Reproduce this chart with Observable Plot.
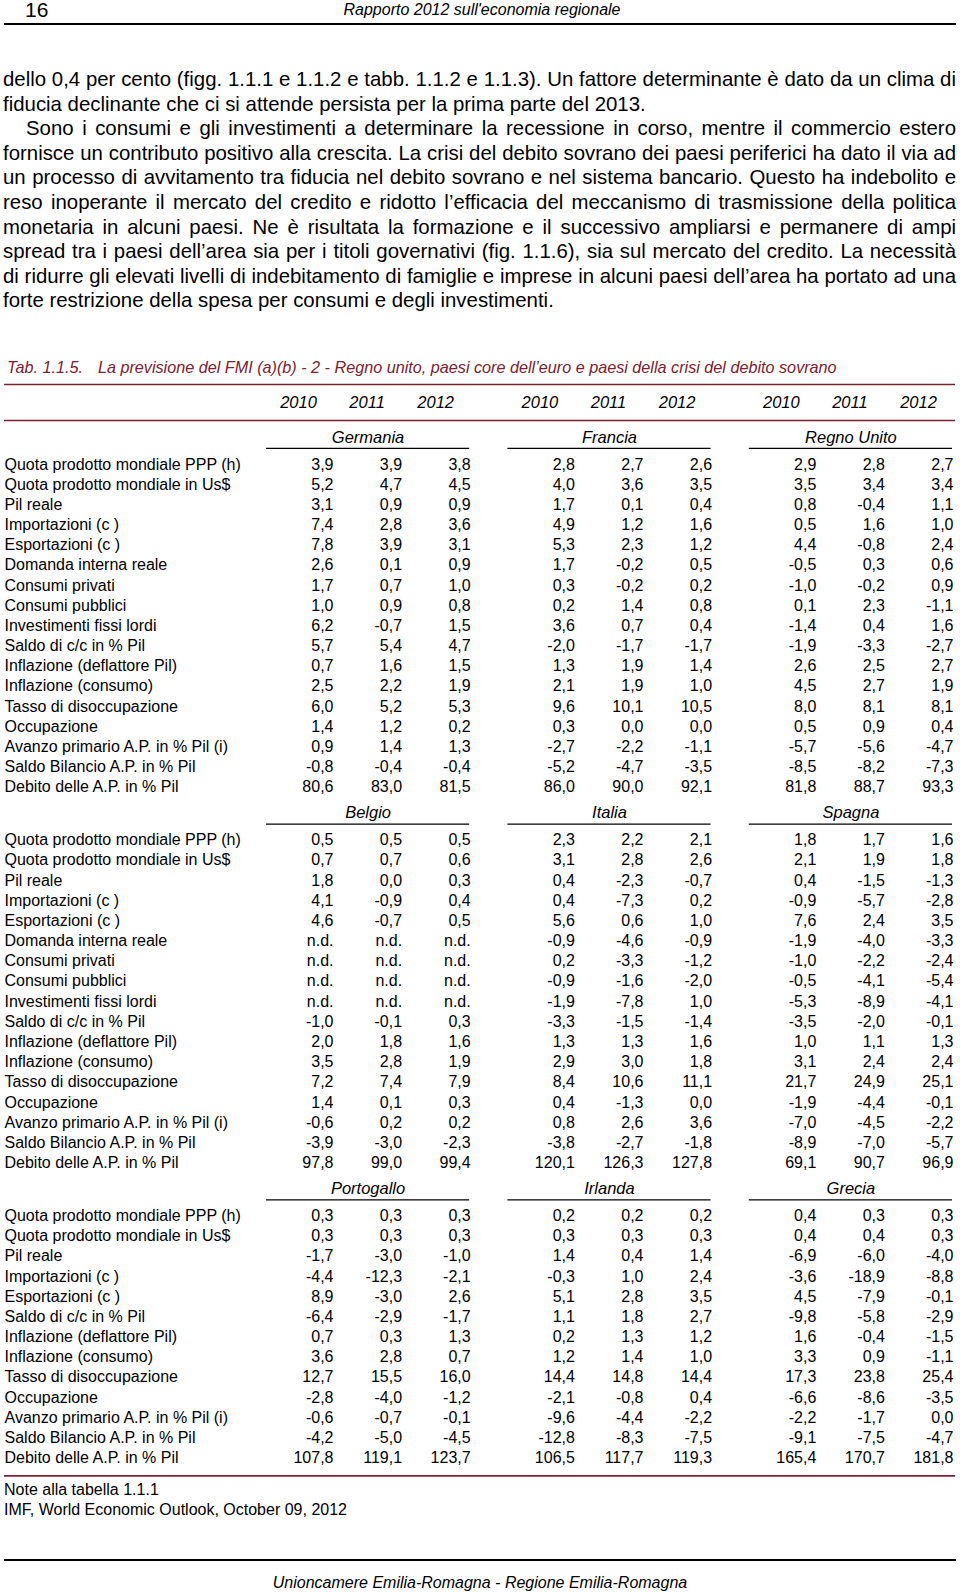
<!DOCTYPE html>
<html><head><meta charset="utf-8">
<script src="https://cdn.jsdelivr.net/npm/d3@7"></script>
<script src="https://cdn.jsdelivr.net/npm/@observablehq/plot@0.6"></script>
<style>
html,body{margin:0;padding:0;background:#fff;}
body{width:960px;height:1592px;position:relative;overflow:hidden;font-family:"Liberation Sans",Arial,Helvetica,sans-serif;color:#000;}
.abs{position:absolute;white-space:nowrap;}
.hr{position:absolute;left:4px;width:952px;height:2px;background:#000;}
.pline{position:absolute;left:3px;height:24px;line-height:24px;font-size:20.4px;white-space:nowrap;transform-origin:0 50%;}
.it{font-style:italic;}
</style></head><body>
<div id="page"></div>
<script>
// ---------- data ----------
const pageNumber = "16";
const runningTitle = "Rapporto 2012 sull'economia regionale";
const paragraphLines = [
  "dello 0,4 per cento (figg. 1.1.1 e 1.1.2 e tabb. 1.1.2 e 1.1.3). Un fattore determinante è dato da un clima di",
  "fiducia declinante che ci si attende persista per la prima parte del 2013.",
  "Sono i consumi e gli investimenti a determinare la recessione in corso, mentre il commercio estero",
  "fornisce un contributo positivo alla crescita. La crisi del debito sovrano dei paesi periferici ha dato il via ad",
  "un processo di avvitamento tra fiducia nel debito sovrano e nel sistema bancario. Questo ha indebolito e",
  "reso inoperante il mercato del credito e ridotto l’efficacia del meccanismo di trasmissione della politica",
  "monetaria in alcuni paesi. Ne è risultata la formazione e il successivo ampliarsi e permanere di ampi",
  "spread tra i paesi dell’area sia per i titoli governativi (fig. 1.1.6), sia sul mercato del credito. La necessità",
  "di ridurre gli elevati livelli di indebitamento di famiglie e imprese in alcuni paesi dell’area ha portato ad una",
  "forte restrizione della spesa per consumi e degli investimenti."
];
const lineJustified = [true,false,true,true,true,true,true,true,true,false];
const lineIndented  = [false,false,true,false,false,false,false,false,false,false];
const tableNumber = "Tab. 1.1.5.";
const tableTitle = "La previsione del FMI (a)(b) - 2 - Regno unito, paesi core dell’euro e paesi della crisi del debito sovrano";
const notes = ["Note alla tabella 1.1.1", "IMF, World Economic Outlook, October 09, 2012"];
const footer = "Unioncamere Emilia-Romagna - Regione Emilia-Romagna";

const years = ["2010", "2011", "2012"];
const indicatorsFull = [
  "Quota prodotto mondiale PPP (h)", "Quota prodotto mondiale in Us$", "Pil reale",
  "Importazioni (c )", "Esportazioni (c )", "Domanda interna reale", "Consumi privati",
  "Consumi pubblici", "Investimenti fissi lordi", "Saldo di c/c in % Pil",
  "Inflazione (deflattore Pil)", "Inflazione (consumo)", "Tasso di disoccupazione",
  "Occupazione", "Avanzo primario A.P. in % Pil (i)", "Saldo Bilancio A.P. in % Pil",
  "Debito delle A.P. in % Pil"
];
const indicatorsShort = [
  "Quota prodotto mondiale PPP (h)", "Quota prodotto mondiale in Us$", "Pil reale",
  "Importazioni (c )", "Esportazioni (c )", "Saldo di c/c in % Pil",
  "Inflazione (deflattore Pil)", "Inflazione (consumo)", "Tasso di disoccupazione",
  "Occupazione", "Avanzo primario A.P. in % Pil (i)", "Saldo Bilancio A.P. in % Pil",
  "Debito delle A.P. in % Pil"
];

const germania = [[3.9,3.9,3.8],[5.2,4.7,4.5],[3.1,0.9,0.9],[7.4,2.8,3.6],[7.8,3.9,3.1],[2.6,0.1,0.9],[1.7,0.7,1.0],[1.0,0.9,0.8],[6.2,-0.7,1.5],[5.7,5.4,4.7],[0.7,1.6,1.5],[2.5,2.2,1.9],[6.0,5.2,5.3],[1.4,1.2,0.2],[0.9,1.4,1.3],[-0.8,-0.4,-0.4],[80.6,83.0,81.5]];
const francia = [[2.8,2.7,2.6],[4.0,3.6,3.5],[1.7,0.1,0.4],[4.9,1.2,1.6],[5.3,2.3,1.2],[1.7,-0.2,0.5],[0.3,-0.2,0.2],[0.2,1.4,0.8],[3.6,0.7,0.4],[-2.0,-1.7,-1.7],[1.3,1.9,1.4],[2.1,1.9,1.0],[9.6,10.1,10.5],[0.3,0.0,0.0],[-2.7,-2.2,-1.1],[-5.2,-4.7,-3.5],[86.0,90.0,92.1]];
const regnoUnito = [[2.9,2.8,2.7],[3.5,3.4,3.4],[0.8,-0.4,1.1],[0.5,1.6,1.0],[4.4,-0.8,2.4],[-0.5,0.3,0.6],[-1.0,-0.2,0.9],[0.1,2.3,-1.1],[-1.4,0.4,1.6],[-1.9,-3.3,-2.7],[2.6,2.5,2.7],[4.5,2.7,1.9],[8.0,8.1,8.1],[0.5,0.9,0.4],[-5.7,-5.6,-4.7],[-8.5,-8.2,-7.3],[81.8,88.7,93.3]];
const belgio = [[0.5,0.5,0.5],[0.7,0.7,0.6],[1.8,0.0,0.3],[4.1,-0.9,0.4],[4.6,-0.7,0.5],[null,null,null],[null,null,null],[null,null,null],[null,null,null],[-1.0,-0.1,0.3],[2.0,1.8,1.6],[3.5,2.8,1.9],[7.2,7.4,7.9],[1.4,0.1,0.3],[-0.6,0.2,0.2],[-3.9,-3.0,-2.3],[97.8,99.0,99.4]];
const italia = [[2.3,2.2,2.1],[3.1,2.8,2.6],[0.4,-2.3,-0.7],[0.4,-7.3,0.2],[5.6,0.6,1.0],[-0.9,-4.6,-0.9],[0.2,-3.3,-1.2],[-0.9,-1.6,-2.0],[-1.9,-7.8,1.0],[-3.3,-1.5,-1.4],[1.3,1.3,1.6],[2.9,3.0,1.8],[8.4,10.6,11.1],[0.4,-1.3,0.0],[0.8,2.6,3.6],[-3.8,-2.7,-1.8],[120.1,126.3,127.8]];
const spagna = [[1.8,1.7,1.6],[2.1,1.9,1.8],[0.4,-1.5,-1.3],[-0.9,-5.7,-2.8],[7.6,2.4,3.5],[-1.9,-4.0,-3.3],[-1.0,-2.2,-2.4],[-0.5,-4.1,-5.4],[-5.3,-8.9,-4.1],[-3.5,-2.0,-0.1],[1.0,1.1,1.3],[3.1,2.4,2.4],[21.7,24.9,25.1],[-1.9,-4.4,-0.1],[-7.0,-4.5,-2.2],[-8.9,-7.0,-5.7],[69.1,90.7,96.9]];
const portogallo = [[0.3,0.3,0.3],[0.3,0.3,0.3],[-1.7,-3.0,-1.0],[-4.4,-12.3,-2.1],[8.9,-3.0,2.6],[-6.4,-2.9,-1.7],[0.7,0.3,1.3],[3.6,2.8,0.7],[12.7,15.5,16.0],[-2.8,-4.0,-1.2],[-0.6,-0.7,-0.1],[-4.2,-5.0,-4.5],[107.8,119.1,123.7]];
const irlanda = [[0.2,0.2,0.2],[0.3,0.3,0.3],[1.4,0.4,1.4],[-0.3,1.0,2.4],[5.1,2.8,3.5],[1.1,1.8,2.7],[0.2,1.3,1.2],[1.2,1.4,1.0],[14.4,14.8,14.4],[-2.1,-0.8,0.4],[-9.6,-4.4,-2.2],[-12.8,-8.3,-7.5],[106.5,117.7,119.3]];
const grecia = [[0.4,0.3,0.3],[0.4,0.4,0.3],[-6.9,-6.0,-4.0],[-3.6,-18.9,-8.8],[4.5,-7.9,-0.1],[-9.8,-5.8,-2.9],[1.6,-0.4,-1.5],[3.3,0.9,-1.1],[17.3,23.8,25.4],[-6.6,-8.6,-3.5],[-2.2,-1.7,0.0],[-9.1,-7.5,-4.7],[165.4,170.7,181.8]];

const sections = [
  {countries: ["Germania", "Francia", "Regno Unito"], labels: indicatorsFull, values: [germania, francia, regnoUnito]},
  {countries: ["Belgio", "Italia", "Spagna"], labels: indicatorsFull, values: [belgio, italia, spagna]},
  {countries: ["Portogallo", "Irlanda", "Grecia"], labels: indicatorsShort, values: [portogallo, irlanda, grecia]}
];

// ---------- page furniture (HTML) ----------
const maroon = "#7b2130";
const page = document.getElementById("page");
function add(html){ const d = document.createElement("div"); d.innerHTML = html; const el = d.firstElementChild; page.appendChild(el); return el; }

add(`<div class="abs" style="left:25px;top:-2px;font-size:21px;line-height:24px;">${pageNumber}</div>`);
add(`<div class="abs it" style="left:0;width:964px;text-align:center;top:0px;font-size:16px;line-height:20px;">${runningTitle}</div>`);
add(`<div class="hr" style="top:23px;"></div>`);

const lineTop0 = 79, lineStep = 24.6, fullW = 953;
paragraphLines.forEach((t, i) => {
  const ind = lineIndented[i] ? 23 : 0;
  const el = add(`<div class="pline" style="top:${(lineTop0 + i*lineStep - 12).toFixed(1)}px;left:${3+ind}px;"><span>${t}</span></div>`);
  if (lineJustified[i]) {
    const target = fullW - ind;
    const natural = el.firstChild.getBoundingClientRect().width;
    const spaces = (t.match(/ /g) || []).length;
    if (natural <= target) el.style.wordSpacing = ((target - natural) / spaces) + "px";
    else el.style.transform = `scaleX(${target / natural})`;
  }
});

add(`<div class="abs it" style="left:7px;top:357px;font-size:16.2px;line-height:20px;color:${maroon};">${tableNumber}<span style="margin-left:15px">${tableTitle}</span></div>`);

// ---------- table (Observable Plot) ----------
const fmt = v => v == null ? "n.d." : v.toFixed(1).replace(".", ",");
const unit = 20.17;           // one table row, px
const H = 1104;               // svg height
const colPos = (g, j) => g * 3.52 + j;   // column position in "column units"

const rules = [0.397, 2.18];
const yearCells = [];
for (let g = 0; g < 3; g++) years.forEach((y, j) => yearCells.push({x: colPos(g, j), u: 1.289, text: y}));

const countryCells = [], underlines = [], labelCells = [], valueCells = [];
let u = 3.02;
sections.forEach(sec => {
  sec.countries.forEach((c, g) => {
    const x1 = colPos(g, 0) - 0.977, x2 = colPos(g, 2) - 0.015;
    countryCells.push({x: (x1 + x2) / 2, u, text: c});
    underlines.push({x1, x2, u: u + 0.545});
  });
  const r0 = u + 1.339;
  sec.labels.forEach((lab, i) => {
    labelCells.push({u: r0 + i, text: lab});
    sec.values.forEach((vals, g) => vals[i].forEach((v, j) => valueCells.push({x: colPos(g, j), u: r0 + i, text: fmt(v)})));
  });
  u = r0 + sec.labels.length - 1 + 1.29;
});
rules.push(u - 1.29 + 0.89);

const font = "'Liberation Sans', Arial, Helvetica, sans-serif";
const chart = Plot.plot({
  width: 960, height: H,
  marginTop: 0, marginBottom: 0, marginLeft: 4, marginRight: 5,
  style: {fontFamily: font, background: "transparent", color: "black", overflow: "visible"},
  x: {type: "linear", domain: [0, 9.04], range: [333, 953], axis: null},
  y: {type: "linear", domain: [0, H / unit], range: [0, H], axis: null},
  marks: [
    Plot.ruleY(rules, {y: d => d, stroke: maroon, strokeWidth: 1.6}),
    Plot.ruleY(underlines, {y: "u", x1: "x1", x2: "x2", stroke: "black", strokeWidth: 1.3}),
    Plot.text(yearCells, {x: "x", y: "u", text: "text", dx: -35, textAnchor: "middle", fontSize: 16.5, fontStyle: "italic", fill: "black"}),
    Plot.text(countryCells, {x: "x", y: "u", text: "text", textAnchor: "middle", fontSize: 16.5, fontStyle: "italic", fill: "black"}),
    Plot.text(labelCells, {frameAnchor: "left", y: "u", text: "text", textAnchor: "start", fontSize: 16, fill: "black"}),
    Plot.text(valueCells, {x: "x", y: "u", text: "text", textAnchor: "end", fontSize: 16, fill: "black"})
  ]
});
const holder = document.createElement("div");
holder.style.cssText = "position:absolute;left:0;top:376px;";
holder.appendChild(chart);
page.appendChild(holder);

notes.forEach((n, i) => add(`<div class="abs" style="left:4px;top:${1480 + i*20}px;font-size:16px;line-height:20px;">${n}</div>`));
add(`<div class="hr" style="top:1559px;"></div>`);
add(`<div class="abs it" style="left:0;width:960px;text-align:center;top:1573px;font-size:16px;line-height:20px;">${footer}</div>`);
</script>
</body></html>
